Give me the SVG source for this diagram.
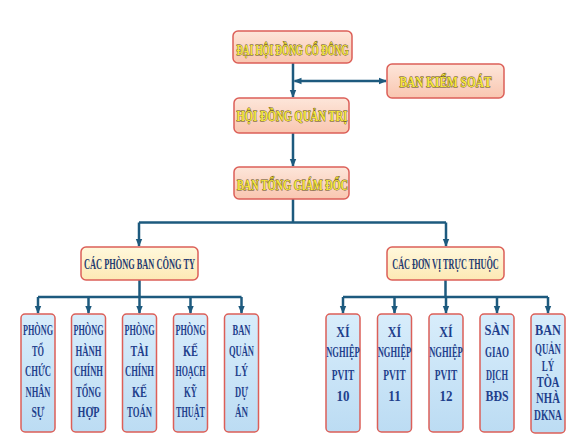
<svg xmlns="http://www.w3.org/2000/svg" width="570" height="437" viewBox="0 0 570 437">
<defs>
<linearGradient id="gTop" x1="0" y1="0" x2="0" y2="1"><stop offset="0" stop-color="#fde6da"/><stop offset="1" stop-color="#f9c6b0"/></linearGradient>
<linearGradient id="gMid" x1="0" y1="0" x2="0" y2="1"><stop offset="0" stop-color="#fff8dc"/><stop offset="1" stop-color="#fde9b4"/></linearGradient>
<linearGradient id="gBot" x1="0" y1="0" x2="0" y2="1"><stop offset="0" stop-color="#d8edfb"/><stop offset="1" stop-color="#bcdcf3"/></linearGradient>
<marker id="arr" markerUnits="userSpaceOnUse" markerWidth="8" markerHeight="8" viewBox="0 0 8 8" refX="7" refY="4" orient="auto-start-reverse"><path d="M0,0.8 L8,4 L0,7.2 Z" fill="#1d5a7e"/></marker>
<style>
.top{fill:url(#gTop);stroke:#dc5f58;stroke-width:1.5}
.mid{fill:url(#gMid);stroke:#dc5f58;stroke-width:1.5}
.bot{fill:url(#gBot);stroke:#dc5f58;stroke-width:1.5}
.yt{font-family:"Liberation Serif",serif;font-weight:bold;font-size:14.5px;fill:#f4e63a;stroke:#5e4d18;stroke-width:0.9;paint-order:stroke;text-anchor:middle}
.nt{font-family:"Liberation Serif",serif;font-weight:bold;font-size:14px;fill:#243a70;text-anchor:middle}
.bt{font-family:"Liberation Serif",serif;font-weight:bold;font-size:15px;fill:#1f3f8c;text-anchor:middle}
.c{fill:none;stroke:#1d5a7e;stroke-width:2.5}
</style>
</defs>
<rect width="570" height="437" fill="#ffffff"/>
<g id="connectors">
<path class="c" d="M293,63 V97" marker-end="url(#arr)"/>
<path class="c" d="M294.5,81 H386" marker-start="url(#arr)" marker-end="url(#arr)"/>
<path class="c" d="M293,133 V166" marker-end="url(#arr)"/>
<path class="c" d="M293,199 V222.5"/>
<path class="c" d="M139,222.5 H446"/>
<path class="c" d="M139,222.5 V246" marker-end="url(#arr)"/>
<path class="c" d="M446,222.5 V246" marker-end="url(#arr)"/>
<path class="c" d="M139.5,280 V297"/>
<path class="c" d="M38,297 H241.5"/>
<path class="c" d="M38,297 V313" marker-end="url(#arr)"/>
<path class="c" d="M88.5,297 V313" marker-end="url(#arr)"/>
<path class="c" d="M139.5,297 V313" marker-end="url(#arr)"/>
<path class="c" d="M190.5,297 V313" marker-end="url(#arr)"/>
<path class="c" d="M241.5,297 V313" marker-end="url(#arr)"/>
<path class="c" d="M445.5,280 V297"/>
<path class="c" d="M343,297 H548"/>
<path class="c" d="M343,297 V313" marker-end="url(#arr)"/>
<path class="c" d="M394.5,297 V313" marker-end="url(#arr)"/>
<path class="c" d="M446,297 V313" marker-end="url(#arr)"/>
<path class="c" d="M497,297 V313" marker-end="url(#arr)"/>
<path class="c" d="M548,297 V313" marker-end="url(#arr)"/>
</g>
<g id="n-dhdcd"><rect class="top" x="233" y="31" width="119" height="32" rx="5"/><text class="yt" x="292.5" y="55" textLength="112" lengthAdjust="spacingAndGlyphs">ĐẠI HỘI ĐỒNG CỔ ĐÔNG</text></g>
<g id="n-bks"><rect class="top" x="387" y="64" width="117" height="34" rx="5"/><text class="yt" x="445.5" y="87" textLength="92" lengthAdjust="spacingAndGlyphs">BAN KIỂM SOÁT</text></g>
<g id="n-hdqt"><rect class="top" x="234" y="98" width="115" height="35" rx="5"/><text class="yt" x="292" y="121" textLength="111" lengthAdjust="spacingAndGlyphs">HỘI ĐỒNG QUẢN TRỊ</text></g>
<g id="n-btgd"><rect class="top" x="234" y="167" width="115" height="32" rx="5"/><text class="yt" x="292.5" y="189.5" textLength="111" lengthAdjust="spacingAndGlyphs">BAN TỔNG GIÁM ĐỐC</text></g>
<g id="n-cpb"><rect class="mid" x="81" y="247" width="117" height="33" rx="5"/><text class="nt" x="139.5" y="269" textLength="111" lengthAdjust="spacingAndGlyphs">CÁC PHÒNG BAN CÔNG TY</text></g>
<g id="n-cdv"><rect class="mid" x="387" y="247" width="117" height="33" rx="5"/><text class="nt" transform="translate(445.5,269) scale(0.585,1)">CÁC ĐƠN VỊ TRỰC THUỘC</text></g>
<g id="n-p1"><rect class="bot" x="21" y="314" width="34" height="118" rx="4"/>
<text class="bt" x="38" y="335" textLength="30" lengthAdjust="spacingAndGlyphs">PHÒNG</text>
<text class="bt" x="38" y="355.5" textLength="12" lengthAdjust="spacingAndGlyphs">TỔ</text>
<text class="bt" x="38" y="376" textLength="26" lengthAdjust="spacingAndGlyphs">CHỨC</text>
<text class="bt" x="38" y="396.5" textLength="25" lengthAdjust="spacingAndGlyphs">NHÂN</text>
<text class="bt" x="38" y="417" textLength="13" lengthAdjust="spacingAndGlyphs">SỰ</text></g>
<g id="n-p2"><rect class="bot" x="71.5" y="314" width="34" height="118" rx="4"/>
<text class="bt" x="88.5" y="335" textLength="30" lengthAdjust="spacingAndGlyphs">PHÒNG</text>
<text class="bt" x="88.5" y="355.5" textLength="26" lengthAdjust="spacingAndGlyphs">HÀNH</text>
<text class="bt" x="88.5" y="376" textLength="29" lengthAdjust="spacingAndGlyphs">CHÍNH</text>
<text class="bt" x="88.5" y="396.5" textLength="25" lengthAdjust="spacingAndGlyphs">TỔNG</text>
<text class="bt" x="88.5" y="417" textLength="22" lengthAdjust="spacingAndGlyphs">HỢP</text></g>
<g id="n-p3"><rect class="bot" x="122.5" y="314" width="34" height="118" rx="4"/>
<text class="bt" x="139.5" y="335" textLength="30" lengthAdjust="spacingAndGlyphs">PHÒNG</text>
<text class="bt" x="139.5" y="355.5" textLength="18" lengthAdjust="spacingAndGlyphs">TÀI</text>
<text class="bt" x="139.5" y="376" textLength="29" lengthAdjust="spacingAndGlyphs">CHÍNH</text>
<text class="bt" x="139.5" y="396.5" textLength="15" lengthAdjust="spacingAndGlyphs">KẾ</text>
<text class="bt" x="139.5" y="417" textLength="25" lengthAdjust="spacingAndGlyphs">TOÁN</text></g>
<g id="n-p4"><rect class="bot" x="173.5" y="314" width="34" height="118" rx="4"/>
<text class="bt" x="190.5" y="335" textLength="30" lengthAdjust="spacingAndGlyphs">PHÒNG</text>
<text class="bt" x="190.5" y="355.5" textLength="15" lengthAdjust="spacingAndGlyphs">KẾ</text>
<text class="bt" x="190.5" y="376" textLength="30" lengthAdjust="spacingAndGlyphs">HOẠCH</text>
<text class="bt" x="190.5" y="396.5" textLength="13" lengthAdjust="spacingAndGlyphs">KỸ</text>
<text class="bt" x="190.5" y="417" textLength="29" lengthAdjust="spacingAndGlyphs">THUẬT</text></g>
<g id="n-p5"><rect class="bot" x="224.5" y="314" width="34" height="118" rx="4"/>
<text class="bt" x="241.5" y="335" textLength="18" lengthAdjust="spacingAndGlyphs">BAN</text>
<text class="bt" x="241.5" y="355.5" textLength="25" lengthAdjust="spacingAndGlyphs">QUẢN</text>
<text class="bt" x="241.5" y="376" textLength="13" lengthAdjust="spacingAndGlyphs">LÝ</text>
<text class="bt" x="241.5" y="396.5" textLength="13" lengthAdjust="spacingAndGlyphs">DỰ</text>
<text class="bt" x="241.5" y="417" textLength="13" lengthAdjust="spacingAndGlyphs">ÁN</text></g>
<g id="n-x10"><rect class="bot" x="326" y="314" width="34" height="118" rx="4"/>
<text class="bt" font-size="18" transform="translate(343,337) scale(0.8,1)">XÍ</text>
<text class="bt" font-size="12.5" transform="translate(343,357) scale(0.568,1)">NGHIỆP</text>
<text class="bt" font-size="14" transform="translate(343,380) scale(0.628,1)">PVIT</text>
<text class="bt" transform="translate(343,401) scale(0.867,1)">10</text></g>
<g id="n-x11"><rect class="bot" x="377.5" y="314" width="34" height="118" rx="4"/>
<text class="bt" font-size="18" transform="translate(394.5,337) scale(0.8,1)">XÍ</text>
<text class="bt" font-size="12.5" transform="translate(394.5,357) scale(0.568,1)">NGHIỆP</text>
<text class="bt" font-size="14" transform="translate(394.5,380) scale(0.628,1)">PVIT</text>
<text class="bt" transform="translate(394.5,401) scale(0.867,1)">11</text></g>
<g id="n-x12"><rect class="bot" x="429" y="314" width="34" height="118" rx="4"/>
<text class="bt" font-size="18" transform="translate(446,337) scale(0.8,1)">XÍ</text>
<text class="bt" font-size="12.5" transform="translate(446,357) scale(0.568,1)">NGHIỆP</text>
<text class="bt" font-size="14" transform="translate(446,380) scale(0.628,1)">PVIT</text>
<text class="bt" transform="translate(446,401) scale(0.867,1)">12</text></g>
<g id="n-san"><rect class="bot" x="480" y="314" width="34" height="118" rx="4"/>
<text class="bt" transform="translate(497,335) scale(0.833,1)">SÀN</text>
<text class="bt" transform="translate(497,357) scale(0.6,1)">GIAO</text>
<text class="bt" transform="translate(497,380) scale(0.562,1)">DỊCH</text>
<text class="bt" transform="translate(497,401) scale(0.788,1)">BĐS</text></g>
<g id="n-bql"><rect class="bot" x="531" y="314" width="34" height="119" rx="4"/>
<text class="bt" font-size="14.5" transform="translate(548,335) scale(0.817,1)">BAN</text>
<text class="bt" font-size="14.5" transform="translate(548,354) scale(0.586,1)">QUẢN</text>
<text class="bt" font-size="14.5" transform="translate(548,370.5) scale(0.597,1)">LÝ</text>
<text class="bt" font-size="14.5" transform="translate(548,387) scale(0.7,1)">TÒA</text>
<text class="bt" font-size="14.5" transform="translate(548,403) scale(0.714,1)">NHÀ</text>
<text class="bt" font-size="14.5" transform="translate(548,420) scale(0.632,1)">DKNA</text></g>
</svg>
